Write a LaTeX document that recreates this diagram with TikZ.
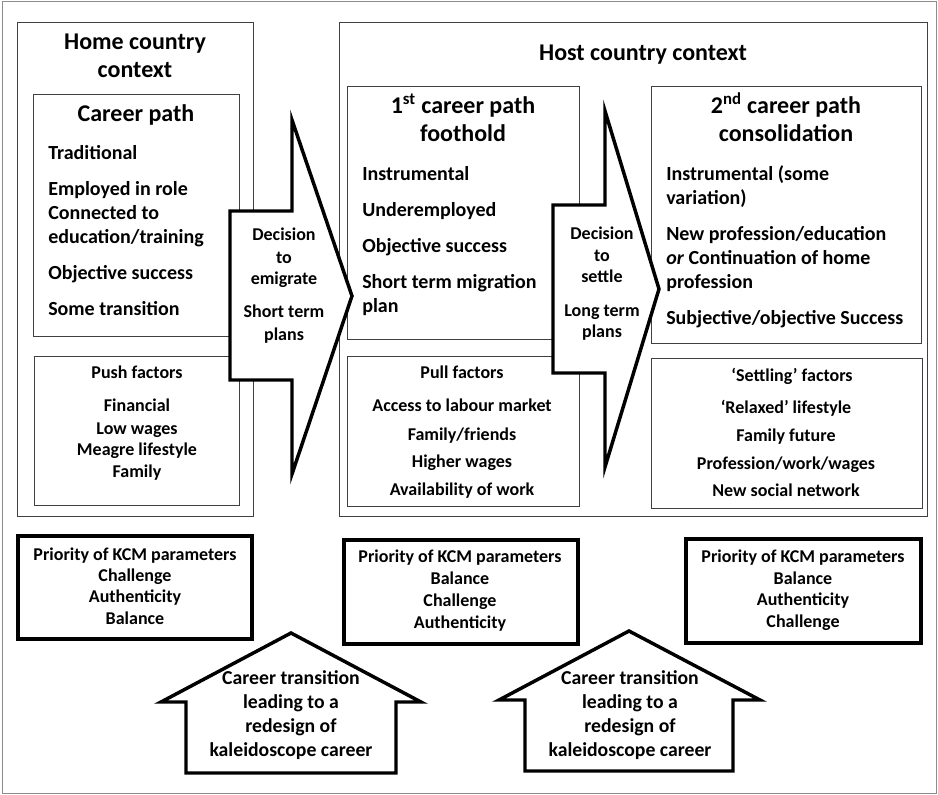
\documentclass[tikz,border=0pt]{standalone}
\usepackage{fontspec}
\setmainfont{Carlito}
\tikzset{
  outerframe/.style={draw=black!45, line width=0.75pt},
  thinbox/.style={draw=black!75, line width=0.75pt},
  bigarrow/.style={draw=black, line width=2.6pt, fill=white},
  kcmbox/.style={draw=black, line width=2.6pt},
  headtext/.style={font=\bfseries\fontsize{18}{22}\selectfont, anchor=mid, inner sep=0pt},
  itemtext/.style={font=\bfseries\fontsize{15}{18}\selectfont, anchor=mid west, inner sep=0pt},
  factortext/.style={font=\bfseries\fontsize{13.5}{16}\selectfont, anchor=mid, inner sep=0pt},
  arrowtext/.style={font=\bfseries\fontsize{13.5}{16}\selectfont, anchor=mid, inner sep=0pt},
  housetext/.style={font=\bfseries\fontsize{14.8}{18}\selectfont, anchor=mid, inner sep=0pt}
}
\begin{document}
\begin{tikzpicture}[x=0.75pt, y=-0.75pt]
    \useasboundingbox (0,0) rectangle (938,795);
    \draw[outerframe] (2,2) rectangle (936,793);
    % home country
    \draw[thinbox] (17,23) rectangle (253,516);
    \draw[thinbox] (33,95) rectangle (239,336);
    \draw[thinbox] (34,356) rectangle (239,505);
    % host country
    \draw[thinbox] (339,23) rectangle (927,516);
    \draw[thinbox] (347,87) rectangle (579,339);
    \draw[thinbox] (347,356) rectangle (579,506);
    \draw[thinbox] (651,87) rectangle (921,343);
    \draw[thinbox] (651,358) rectangle (922,508);
    % KCM boxes
    \draw[kcmbox] (18,536) rectangle (252,639);
    \draw[kcmbox] (344,540) rectangle (578,644);
    \draw[kcmbox] (686,539) rectangle (921,643);
    % arrows
    \draw[bigarrow] (230,211) -- (292,211) -- (292,120) -- (352,296) -- (292,474) -- (292,380) -- (230,380) -- cycle;
    \draw[bigarrow] (553,205) -- (605,205) -- (605,111) -- (659,289) -- (605,467) -- (605,373) -- (553,373) -- cycle;
    \draw[bigarrow] (291,633) -- (421,702) -- (396,702) -- (396,773) -- (186,773) -- (186,702) -- (161,702) -- cycle;
    \draw[bigarrow] (629,631) -- (760,700) -- (733,700) -- (733,771) -- (525,771) -- (525,700) -- (499,700) -- cycle;

    \node[headtext] (home1) at (135,46) {Home country};
    \node[headtext] (home2) at (135,74) {context};
    \node[headtext] (host) at (643,57) {Host country context};

    \node[headtext] (path0) at (136,118) {Career path};
    \node[itemtext] (trad) at (48,156) {Traditional};
    \node[itemtext] (empl) at (48,192) {Employed in role};
    \node[itemtext] (conn) at (48,216) {Connected to};
    \node[itemtext] (educ) at (48,240) {education/training};
    \node[itemtext] (obj0) at (48,276) {Objective success};
    \node[itemtext] (trans) at (48,312) {Some transition};

    \node[headtext] (path1a) at (463,110) {1\textsuperscript{st} career path};
    \node[headtext] (path1b) at (463,138) {foothold};
    \node[itemtext] (instr1) at (362,177) {Instrumental};
    \node[itemtext] (under) at (362,213) {Underemployed};
    \node[itemtext] (obj1) at (362,249) {Objective success};
    \node[itemtext] (short1) at (362,285) {Short term migration};
    \node[itemtext] (short2) at (362,309) {plan};

    \node[headtext] (path2a) at (786,110) {2\textsuperscript{nd} career path};
    \node[headtext] (path2b) at (786,138) {consolidation};
    \node[itemtext] (instr2a) at (666,177) {Instrumental (some};
    \node[itemtext] (instr2b) at (666,201) {variation)};
    \node[itemtext] (prof1) at (666,237) {New profession/education};
    \node[itemtext] (prof2) at (666,261) {\textit{or} Continuation of home};
    \node[itemtext] (prof3) at (666,285) {profession};
    \node[itemtext] (subj) at (666,321) {Subjective/objective Success};

    \node[factortext] (push) at (137,375) {Push factors};
    \node[factortext] (fin) at (137,408) {Financial};
    \node[factortext] (low) at (137,431) {Low wages};
    \node[factortext] (meagre) at (137,452) {Meagre lifestyle};
    \node[factortext] (fam0) at (137,474) {Family};

    \node[factortext] (pull) at (462,375) {Pull factors};
    \node[factortext] (access) at (462,408) {Access to labour market};
    \node[factortext] (friends) at (462,437) {Family/friends};
    \node[factortext] (higher) at (462,464) {Higher wages};
    \node[factortext] (avail) at (462,492) {Availability of work};

    \node[factortext] (settle) at (792,378) {‘Settling’ factors};
    \node[factortext] (relax) at (786,410) {‘Relaxed’ lifestyle};
    \node[factortext] (future) at (786,438) {Family future};
    \node[factortext] (work) at (786,466) {Profession/work/wages};
    \node[factortext] (social) at (786,493) {New social network};

    \node[arrowtext] (dec1a) at (284,237) {Decision};
    \node[arrowtext] (dec1b) at (284,260) {to};
    \node[arrowtext] (dec1c) at (284,281) {emigrate};
    \node[arrowtext] (plan1a) at (284,314) {Short term};
    \node[arrowtext] (plan1b) at (284,337) {plans};

    \node[arrowtext] (dec2a) at (602,236) {Decision};
    \node[arrowtext] (dec2b) at (602,258) {to};
    \node[arrowtext] (dec2c) at (602,279) {settle};
    \node[arrowtext] (plan2a) at (602,313) {Long term};
    \node[arrowtext] (plan2b) at (602,334) {plans};

    \node[factortext] (kcm1) at (135,557) {Priority of KCM parameters};
    \node[factortext] (kcm1a) at (135,578) {Challenge};
    \node[factortext] (kcm1b) at (135,599) {Authenticity};
    \node[factortext] (kcm1c) at (135,621) {Balance};

    \node[factortext] (kcm2) at (460,559) {Priority of KCM parameters};
    \node[factortext] (kcm2a) at (460,581) {Balance};
    \node[factortext] (kcm2b) at (460,603) {Challenge};
    \node[factortext] (kcm2c) at (460,625) {Authenticity};

    \node[factortext] (kcm3) at (803,559) {Priority of KCM parameters};
    \node[factortext] (kcm3a) at (803,581) {Balance};
    \node[factortext] (kcm3b) at (803,602) {Authenticity};
    \node[factortext] (kcm3c) at (803,624) {Challenge};

    \node[housetext] (trA1) at (291,681) {Career transition};
    \node[housetext] (trA2) at (291,705) {leading to a};
    \node[housetext] (trA3) at (291,729) {redesign of};
    \node[housetext] (trA4) at (291,753) {kaleidoscope career};

    \node[housetext] (trB1) at (630,681) {Career transition};
    \node[housetext] (trB2) at (630,705) {leading to a};
    \node[housetext] (trB3) at (630,729) {redesign of};
    \node[housetext] (trB4) at (630,753) {kaleidoscope career};
\end{tikzpicture}
\end{document}
